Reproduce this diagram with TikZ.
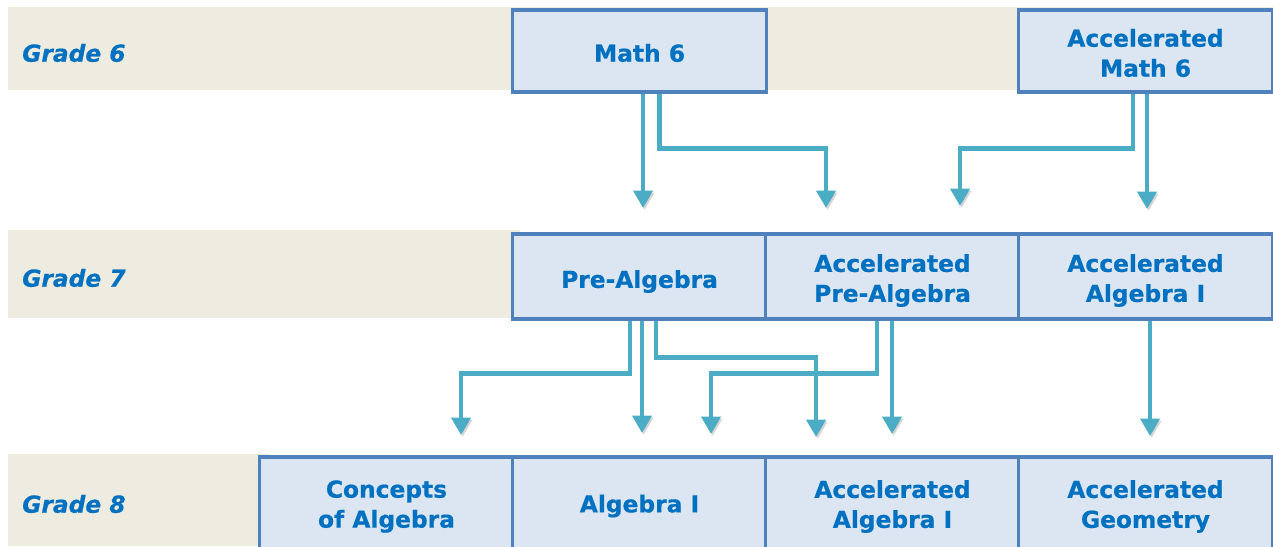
\documentclass[tikz,border=0pt]{standalone}
\usepackage{fontspec}
\setmainfont{DejaVu Sans}[BoldFeatures={FakeBold=0.7},BoldItalicFeatures={FakeBold=0.7}]
\usetikzlibrary{arrows.meta,calc}
\definecolor{bandc}{HTML}{EEEBE0}
\definecolor{boxfill}{HTML}{DCE6F2}
\definecolor{boxline}{HTML}{4F81BD}
\definecolor{txtc}{HTML}{0070C0}
\definecolor{arrc}{HTML}{4BACC6}
\tikzset{
  band/.style={fill=bandc, draw=none},
  course/.style={draw=boxline, line width=2.3pt, fill=boxfill,
    minimum width=190pt, inner sep=0pt},
  ctext/.style={text=txtc, inner sep=0pt,
    font=\fontsize{17.5}{22.5}\selectfont\bfseries, align=center},
  gradelbl/.style={anchor=west, text=txtc, inner sep=0pt,
    font=\fontsize{17.5}{22.5}\selectfont\bfseries\itshape},
  arr/.style={draw=arrc, line width=3.6pt, -{Triangle[width=14pt,length=13pt]},
    preaction={draw=black, opacity=0.16, transform canvas={shift={(1.2pt,-1.5pt)}}}}
}
\begin{document}
\begin{tikzpicture}[x=0.75pt,y=-0.75pt]
\useasboundingbox (0,0) rectangle (1273,546);
% grade bands
\fill[band] (8,7) rectangle (1273,90);
\fill[band] (8,230) rectangle (520,318);
\fill[band] (8,454) rectangle (270,546);
\node[gradelbl] (g6) at (22,53) {Grade 6};
\node[gradelbl] (g7) at (22,278) {Grade 7};
\node[gradelbl] (g8) at (22,504) {Grade 8};
% grade 6
\node[course, minimum height=61.5pt] (m6) at (639.5,51) {};
\node[course, minimum height=61.5pt] (am6) at (1145.5,51) {};
% grade 7
\node[course, minimum height=63.75pt] (pa) at (639.5,276.5) {};
\node[course, minimum height=63.75pt] (apa) at (892.5,276.5) {};
\node[course, minimum height=63.75pt] (aa7) at (1145.5,276.5) {};
% grade 8
\node[course, minimum height=70.5pt] (ca) at (386.5,504) {};
\node[course, minimum height=70.5pt] (a8) at (639.5,504) {};
\node[course, minimum height=70.5pt] (aa8) at (892.5,504) {};
\node[course, minimum height=70.5pt] (ag) at (1145.5,504) {};
% course texts
\node[ctext] (m6t) at ($(m6)+(0,2)$) {Math 6};
\node[ctext] (am6t) at ($(am6)+(0,2)$) {Accelerated\\Math 6};
\node[ctext] (pat) at ($(pa)+(0,5)$) {Pre-Algebra};
\node[ctext] (apat) at ($(apa)+(0,4)$) {Accelerated\\Pre-Algebra};
\node[ctext] (aa7t) at ($(aa7)+(0,4)$) {Accelerated\\Algebra I};
\node[ctext] (cat) at ($(ca)+(0,2.5)$) {Concepts\\of Algebra};
\node[ctext] (a8t) at ($(a8)+(0,2)$) {Algebra I};
\node[ctext] (aa8t) at ($(aa8)+(0,2.5)$) {Accelerated\\Algebra I};
\node[ctext] (agt) at ($(ag)+(0,2.5)$) {Accelerated\\Geometry};
% arrow ends
\coordinate (t1) at (643,208);
\coordinate (t2) at (826,208);
\coordinate (t3) at (960,206);
\coordinate (t4) at (1147,209);
\coordinate (b1) at (461,435);
\coordinate (b2) at (642,433);
\coordinate (b3) at (816,437);
\coordinate (b4) at (711,434);
\coordinate (b5) at (892,434);
\coordinate (b6) at (1150,436);
% grade 6 -> 7
\draw[arr] (m6.south -| t1) -- (t1);
\draw[arr] ($(m6.south)+(20,0)$) -- ++(0,55) -| (t2);
\draw[arr] ($(am6.south)+(-12.5,0)$) -- ++(0,55) -| (t3);
\draw[arr] (am6.south -| t4) -- (t4);
% grade 7 -> 8
\draw[arr] ($(apa.south)+(-15.5,0)$) -- ++(0,53) -| (b4);
\draw[arr] (apa.south -| b5) -- (b5);
\draw[arr] ($(pa.south)+(-9.5,0)$) -- ++(0,53) -| (b1);
\draw[arr] (pa.south -| b2) -- (b2);
\draw[arr] ($(pa.south)+(16.5,0)$) -- ++(0,37) -| (b3);
\draw[arr] (aa7.south -| b6) -- (b6);
\end{tikzpicture}
\end{document}
